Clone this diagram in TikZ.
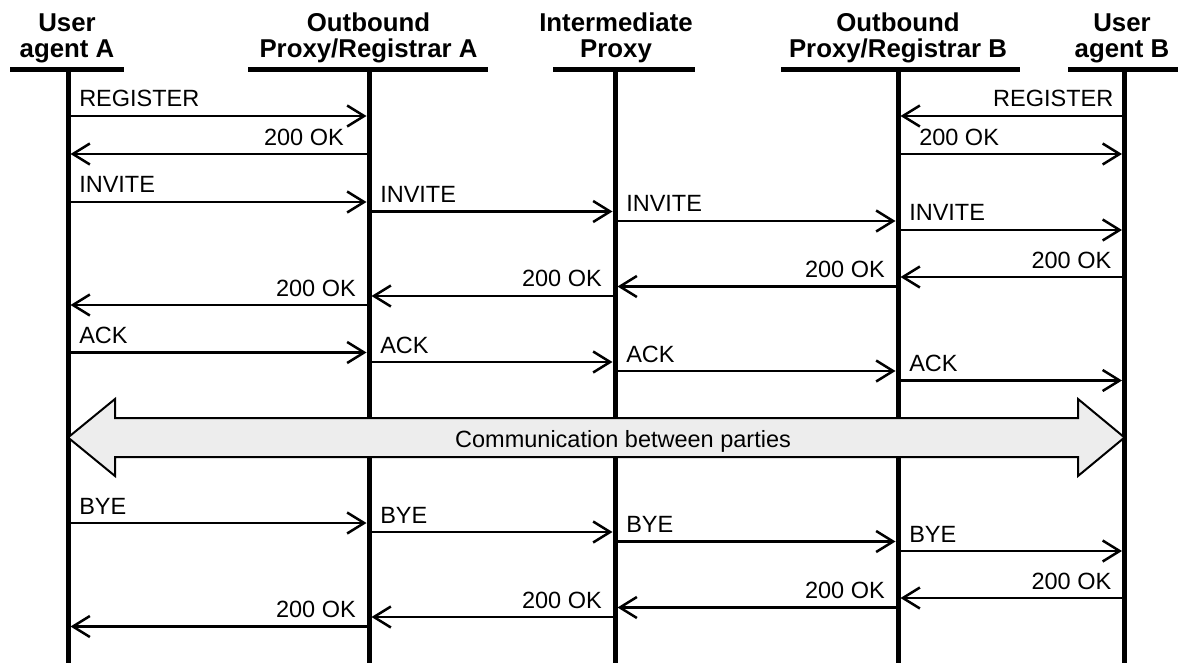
\documentclass[tikz,border=0pt]{standalone}
\usepackage{fontspec}
\setmainfont{Liberation Sans}
\usetikzlibrary{arrows.meta}
\begin{document}
\begin{tikzpicture}[x=1pt,y=-1pt,
  life/.style={line width=5pt},
  hbar/.style={line width=5pt},
  hdr/.style={font=\fontsize{25.8}{26}\selectfont\bfseries, align=center, inner sep=0pt, anchor=south},
  msg/.style={line width=2.5pt, -{Straight Barb[length=17pt,width=21pt,line width=2.5pt]}, shorten >=2.5pt},
  lbl/.style={font=\fontsize{23.5}{28}\selectfont, inner sep=0pt},
  rl/.style={lbl, pos=0, anchor=base west, xshift=10pt, yshift=9pt},
  ll/.style={lbl, pos=0, anchor=base east, xshift=-12pt, yshift=9pt},
  bigarrow/.style={draw, line width=2pt, fill=black!7, line join=miter}
]
\useasboundingbox (0,0) rectangle (1178,663);

% header texts
\node[hdr] (hA)  at (67,63.5)   {User\\agent A};
\node[hdr] (hPA) at (368.5,63.5) {Outbound\\Proxy/Registrar A};
\node[hdr] (hIP) at (616,63.5)  {Intermediate\\Proxy};
\node[hdr] (hPB) at (898,63.5)  {Outbound\\Proxy/Registrar B};
\node[hdr] (hB)  at (1122,63.5) {User\\agent B};

% header bars
\draw[hbar] (10,69.5) -- (124,69.5);
\draw[hbar] (248,69.5) -- (488,69.5);
\draw[hbar] (553,69.5) -- (695,69.5);
\draw[hbar] (781,69.5) -- (1020,69.5);
\draw[hbar] (1068,69.5) -- (1178,69.5);

% lifelines
\coordinate (lA)  at (68,69.5);
\coordinate (lPA) at (369,69.5);
\coordinate (lIP) at (615,69.5);
\coordinate (lPB) at (898,69.5);
\coordinate (lB)  at (1124.5,69.5);
\foreach \l in {lA,lPA,lIP,lPB,lB}
  \draw[life] (\l) -- (\l |- 0,663);

% registration
\draw[msg] (lA|-0,116) -- (lPA|-0,116) node[rl] {REGISTER};
\draw[msg] (lPA|-0,154) -- (lA|-0,154) node[lbl, pos=0, anchor=base east, xshift=-24pt, yshift=8pt] {200 OK};
\draw[msg] (lB|-0,116) -- (lPB|-0,116) node[lbl, pos=0, anchor=base east, xshift=-10pt, yshift=9pt] {REGISTER};
\draw[msg] (lPB|-0,154) -- (lB|-0,154) node[lbl, pos=0, anchor=base west, xshift=20pt, yshift=8pt] {200 OK};

% INVITE
\draw[msg] (lA|-0,202)    -- (lPA|-0,202)    node[rl] {INVITE};
\draw[msg] (lPA|-0,211.5) -- (lIP|-0,211.5)  node[rl] {INVITE};
\draw[msg] (lIP|-0,221)   -- (lPB|-0,221)    node[rl] {INVITE};
\draw[msg] (lPB|-0,230)   -- (lB|-0,230)     node[rl] {INVITE};

% 200 OK
\draw[msg] (lB|-0,277)    -- (lPB|-0,277)    node[ll] {200 OK};
\draw[msg] (lPB|-0,286.5) -- (lIP|-0,286.5)  node[ll] {200 OK};
\draw[msg] (lIP|-0,296)   -- (lPA|-0,296)    node[ll] {200 OK};
\draw[msg] (lPA|-0,305)   -- (lA|-0,305)     node[ll] {200 OK};

% ACK
\draw[msg] (lA|-0,352.5)  -- (lPA|-0,352.5)  node[rl] {ACK};
\draw[msg] (lPA|-0,362)   -- (lIP|-0,362)    node[rl] {ACK};
\draw[msg] (lIP|-0,371)   -- (lPB|-0,371)    node[rl] {ACK};
\draw[msg] (lPB|-0,380.5) -- (lB|-0,380.5)   node[rl] {ACK};

% communication
\draw[bigarrow] (lA|-0,437.5) -- (115,399) -- (115,418) -- (1078,418) -- (1078,399)
  -- (lB|-0,437.5) -- (1078,476) -- (1078,457) -- (115,457) -- (115,476) -- cycle;
\node[lbl, anchor=base west] (comm) at (455,447) {Communication between parties};

% BYE
\draw[msg] (lA|-0,523)    -- (lPA|-0,523)    node[rl] {BYE};
\draw[msg] (lPA|-0,532)   -- (lIP|-0,532)    node[rl] {BYE};
\draw[msg] (lIP|-0,541.5) -- (lPB|-0,541.5)  node[rl] {BYE};
\draw[msg] (lPB|-0,551)   -- (lB|-0,551)     node[rl] {BYE};

% final 200 OK
\draw[msg] (lB|-0,598)    -- (lPB|-0,598)    node[ll] {200 OK};
\draw[msg] (lPB|-0,607.5) -- (lIP|-0,607.5)  node[ll] {200 OK};
\draw[msg] (lIP|-0,617)   -- (lPA|-0,617)    node[ll] {200 OK};
\draw[msg] (lPA|-0,626.5) -- (lA|-0,626.5)   node[ll] {200 OK};
\end{tikzpicture}
\end{document}
